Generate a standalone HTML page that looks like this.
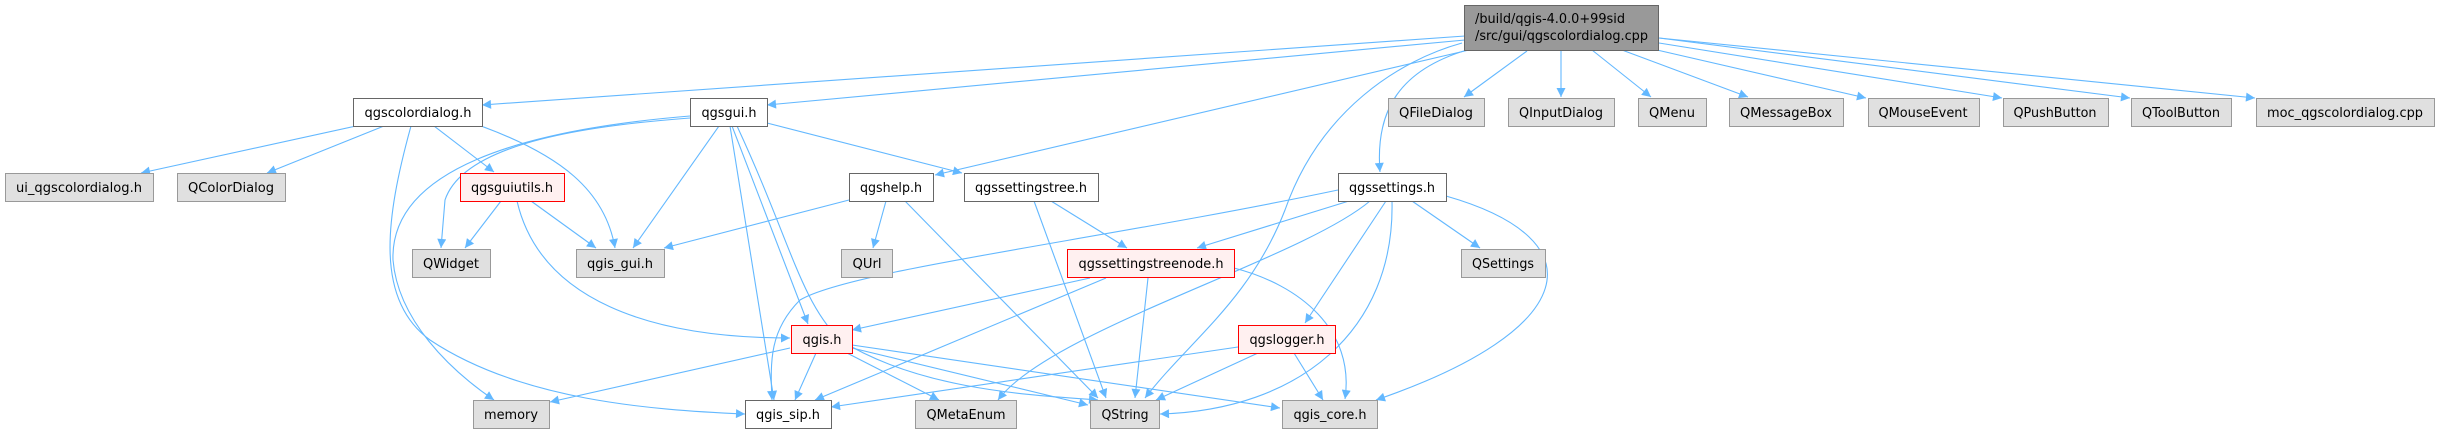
<!DOCTYPE html>
<html><head><meta charset="utf-8"><style>
html,body{margin:0;padding:0;background:#fff;}
svg{display:block;}
text{font-family:"DejaVu Sans","Liberation Sans",sans-serif;font-size:13px;fill:#000;}
.e{fill:none;stroke:#63b8ff;stroke-width:1.1;marker-end:url(#a);}
</style></head><body>
<svg width="2442" height="434" viewBox="0 0 2442 434" xmlns="http://www.w3.org/2000/svg">
<defs><marker id="a" viewBox="0 0 10 10" refX="10" refY="5" markerWidth="11" markerHeight="9" markerUnits="userSpaceOnUse" orient="auto"><path d="M0,0 L10,5 L0,10 z" fill="#63b8ff"/></marker></defs>
<path class="e" d="M1465,36 L482,105"/>
<path class="e" d="M1465,40 L767,105"/>
<path class="e" d="M1469,50 L935,175"/>
<path class="e" d="M1462,43 C1400,60 1320,110 1285,210 C1250,300 1190,340 1145,398"/>
<path class="e" d="M1467,50 C1400,70 1375,110 1380,172"/>
<path class="e" d="M1527,51 L1464,97"/>
<path class="e" d="M1561,51 L1561,97"/>
<path class="e" d="M1592,50 L1651,97"/>
<path class="e" d="M1622,50 L1748,97"/>
<path class="e" d="M1657,50 L1866,98"/>
<path class="e" d="M1659,43 L2002,98"/>
<path class="e" d="M1659,38 L2130,98"/>
<path class="e" d="M1659,38 L2255,98"/>
<path class="e" d="M356,126 L141,173"/>
<path class="e" d="M384,126 L267,173"/>
<path class="e" d="M434,126 L494,172"/>
<path class="e" d="M481,126 C560,155 605,190 615,248"/>
<path class="e" d="M411,126 C385,220 375,300 430,340 C520,400 650,410 745,414"/>
<path class="e" d="M690,116 C520,130 390,170 393,260 C398,320 450,370 494,400"/>
<path class="e" d="M690,118 C600,125 465,140 445,200 L441,248"/>
<path class="e" d="M719,126 L633,248"/>
<path class="e" d="M730,126 L774,400"/>
<path class="e" d="M732,126 L808,324"/>
<path class="e" d="M737,126 C790,240 800,300 840,340 C920,390 1030,395 1098,400"/>
<path class="e" d="M767,123 L962,173"/>
<path class="e" d="M501,201 L465,248"/>
<path class="e" d="M531,201 L596,248"/>
<path class="e" d="M517,201 C540,300 650,338 790,338"/>
<path class="e" d="M849,200 L664,248"/>
<path class="e" d="M886,201 L873,248"/>
<path class="e" d="M905,201 L1098,398"/>
<path class="e" d="M1051,201 L1127,248"/>
<path class="e" d="M1034,201 L1106,398"/>
<path class="e" d="M1338,190 C1100,240 850,270 800,300 C770,330 770,360 772,400"/>
<path class="e" d="M1349,201 L1197,248"/>
<path class="e" d="M1370,201 C1300,260 1050,330 998,400"/>
<path class="e" d="M1386,201 L1305,323"/>
<path class="e" d="M1392,201 C1395,330 1300,410 1160,414"/>
<path class="e" d="M1412,201 L1480,248"/>
<path class="e" d="M1446,196 C1600,240 1580,330 1376,400"/>
<path class="e" d="M1090,278 L852,330"/>
<path class="e" d="M1106,278 L815,400"/>
<path class="e" d="M1148,278 L1135,398"/>
<path class="e" d="M1234,268 C1300,285 1355,330 1345,399"/>
<path class="e" d="M790,348 L550,402"/>
<path class="e" d="M816,353 L795,400"/>
<path class="e" d="M847,353 L939,400"/>
<path class="e" d="M852,348 L1088,405"/>
<path class="e" d="M852,345 L1280,408"/>
<path class="e" d="M1238,347 L831,407"/>
<path class="e" d="M1258,353 L1156,400"/>
<path class="e" d="M1294,353 L1323,400"/>

<rect x="1464.5" y="5.5" width="194" height="45" fill="#999" stroke="#666"/>
<text x="1475" y="23" textLength="150" lengthAdjust="spacingAndGlyphs">/build/qgis-4.0.0+99sid</text>
<text x="1475" y="40" textLength="173" lengthAdjust="spacingAndGlyphs">/src/gui/qgscolordialog.cpp</text>
<g font-size="13">
<rect x="353.5" y="98.5" width="129" height="28" fill="#fff" stroke="#666"/>
<text x="418" y="117" text-anchor="middle" textLength="107" lengthAdjust="spacingAndGlyphs">qgscolordialog.h</text>
<rect x="690.5" y="98.5" width="77" height="28" fill="#fff" stroke="#666"/>
<text x="729" y="117" text-anchor="middle" textLength="55" lengthAdjust="spacingAndGlyphs">qgsgui.h</text>
<rect x="849.5" y="173.5" width="84" height="28" fill="#fff" stroke="#666"/>
<text x="891" y="192" text-anchor="middle" textLength="62" lengthAdjust="spacingAndGlyphs">qgshelp.h</text>
<rect x="964.5" y="173.5" width="134" height="28" fill="#fff" stroke="#666"/>
<text x="1031" y="192" text-anchor="middle" textLength="112" lengthAdjust="spacingAndGlyphs">qgssettingstree.h</text>
<rect x="1338.5" y="173.5" width="108" height="28" fill="#fff" stroke="#666"/>
<text x="1392" y="192" text-anchor="middle" textLength="86" lengthAdjust="spacingAndGlyphs">qgssettings.h</text>
<rect x="745.5" y="400.5" width="86" height="28" fill="#fff" stroke="#666"/>
<text x="788" y="419" text-anchor="middle" textLength="64" lengthAdjust="spacingAndGlyphs">qgis_sip.h</text>
<rect x="460.5" y="173.5" width="104" height="28" fill="#fff0f0" stroke="#f00"/>
<text x="512" y="192" text-anchor="middle" textLength="82" lengthAdjust="spacingAndGlyphs">qgsguiutils.h</text>
<rect x="1067.5" y="249.5" width="167" height="28" fill="#fff0f0" stroke="#f00"/>
<text x="1151" y="268" text-anchor="middle" textLength="145" lengthAdjust="spacingAndGlyphs">qgssettingstreenode.h</text>
<rect x="791.5" y="325.5" width="61" height="28" fill="#fff0f0" stroke="#f00"/>
<text x="822" y="344" text-anchor="middle" textLength="39" lengthAdjust="spacingAndGlyphs">qgis.h</text>
<rect x="1238.5" y="325.5" width="97" height="28" fill="#fff0f0" stroke="#f00"/>
<text x="1287" y="344" text-anchor="middle" textLength="75" lengthAdjust="spacingAndGlyphs">qgslogger.h</text>
<g fill="#e0e0e0" stroke="#999">
<rect x="5.5" y="173.5" width="148" height="28"/>
<rect x="177.5" y="173.5" width="108" height="28"/>
<rect x="412.5" y="249.5" width="78" height="28"/>
<rect x="576.5" y="249.5" width="88" height="28"/>
<rect x="841.5" y="249.5" width="51" height="28"/>
<rect x="1461.5" y="249.5" width="84" height="28"/>
<rect x="473.5" y="400.5" width="76" height="28"/>
<rect x="915.5" y="400.5" width="101" height="28"/>
<rect x="1090.5" y="400.5" width="69" height="28"/>
<rect x="1282.5" y="400.5" width="95" height="28"/>
<rect x="1388.5" y="98.5" width="96" height="28"/>
<rect x="1508.5" y="98.5" width="106" height="28"/>
<rect x="1638.5" y="98.5" width="68" height="28"/>
<rect x="1729.5" y="98.5" width="114" height="28"/>
<rect x="1868.5" y="98.5" width="111" height="28"/>
<rect x="2003.5" y="98.5" width="105" height="28"/>
<rect x="2131.5" y="98.5" width="100" height="28"/>
<rect x="2256.5" y="98.5" width="178" height="28"/>
</g>
<g text-anchor="middle">
<text x="79" y="192" textLength="126" lengthAdjust="spacingAndGlyphs">ui_qgscolordialog.h</text>
<text x="231" y="192" textLength="86" lengthAdjust="spacingAndGlyphs">QColorDialog</text>
<text x="451" y="268" textLength="56" lengthAdjust="spacingAndGlyphs">QWidget</text>
<text x="620" y="268" textLength="66" lengthAdjust="spacingAndGlyphs">qgis_gui.h</text>
<text x="867" y="268" textLength="29" lengthAdjust="spacingAndGlyphs">QUrl</text>
<text x="1503" y="268" textLength="62" lengthAdjust="spacingAndGlyphs">QSettings</text>
<text x="511" y="419" textLength="54" lengthAdjust="spacingAndGlyphs">memory</text>
<text x="966" y="419" textLength="79" lengthAdjust="spacingAndGlyphs">QMetaEnum</text>
<text x="1125" y="419" textLength="47" lengthAdjust="spacingAndGlyphs">QString</text>
<text x="1330" y="419" textLength="73" lengthAdjust="spacingAndGlyphs">qgis_core.h</text>
<text x="1436" y="117" textLength="74" lengthAdjust="spacingAndGlyphs">QFileDialog</text>
<text x="1561" y="117" textLength="84" lengthAdjust="spacingAndGlyphs">QInputDialog</text>
<text x="1672" y="117" textLength="46" lengthAdjust="spacingAndGlyphs">QMenu</text>
<text x="1786" y="117" textLength="92" lengthAdjust="spacingAndGlyphs">QMessageBox</text>
<text x="1923" y="117" textLength="89" lengthAdjust="spacingAndGlyphs">QMouseEvent</text>
<text x="2055" y="117" textLength="83" lengthAdjust="spacingAndGlyphs">QPushButton</text>
<text x="2181" y="117" textLength="78" lengthAdjust="spacingAndGlyphs">QToolButton</text>
<text x="2345" y="117" textLength="156" lengthAdjust="spacingAndGlyphs">moc_qgscolordialog.cpp</text>
</g>
</g>
</svg>
</body></html>
